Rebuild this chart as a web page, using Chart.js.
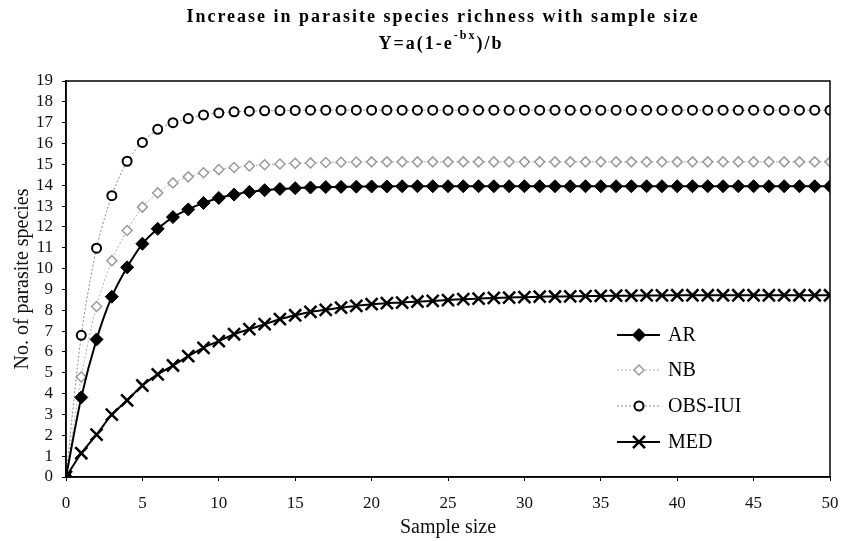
<!DOCTYPE html>
<html>
<head>
<meta charset="utf-8">
<script src="https://cdn.jsdelivr.net/npm/chart.js@4/dist/chart.umd.min.js"></script>
<style>
	html, body { margin: 0; padding: 0; background: #fff; }
</style>
</head>
<body>
<canvas id="chart-richness" width="841" height="541"></canvas>
<script>
// Datos
const sampleSize = [0, 1, 2, 3, 4, 5, 6, 7, 8, 9, 10, 11, 12, 13, 14, 15, 16, 17, 18, 19, 20,
	21, 22, 23, 24, 25, 26, 27, 28, 29, 30, 31, 32, 33, 34, 35, 36, 37, 38, 39, 40,
	41, 42, 43, 44, 45, 46, 47, 48, 49, 50];

const seriesLabels = ['AR', 'NB', 'OBS-IUI', 'MED'];

const arValues = [0, 3.82, 6.6, 8.65, 10.06, 11.19, 11.91, 12.47, 12.84, 13.15, 13.39,
	13.55, 13.68, 13.76, 13.82, 13.86, 13.89, 13.91, 13.92, 13.93, 13.94,
	13.94, 13.95, 13.95, 13.95, 13.95, 13.95, 13.95, 13.95, 13.95, 13.95,
	13.95, 13.95, 13.95, 13.95, 13.95, 13.95, 13.95, 13.95, 13.95, 13.95,
	13.95, 13.95, 13.95, 13.95, 13.95, 13.95, 13.95, 13.95, 13.95, 13.95];

const nbValues = [0, 4.8, 8.18, 10.38, 11.83, 12.95, 13.63, 14.11, 14.4, 14.6, 14.75,
	14.85, 14.92, 14.98, 15.02, 15.05, 15.07, 15.09, 15.1, 15.11, 15.12,
	15.12, 15.12, 15.12, 15.12, 15.12, 15.12, 15.12, 15.12, 15.12, 15.12,
	15.12, 15.12, 15.12, 15.12, 15.12, 15.12, 15.12, 15.12, 15.12, 15.12,
	15.12, 15.12, 15.12, 15.12, 15.12, 15.12, 15.12, 15.12, 15.12, 15.12];

const obsValues = [0, 6.8, 10.98, 13.5, 15.15, 16.05, 16.68, 17.0, 17.2, 17.37, 17.47,
	17.52, 17.55, 17.57, 17.58, 17.59, 17.6, 17.6, 17.6, 17.6, 17.6,
	17.6, 17.6, 17.6, 17.6, 17.6, 17.6, 17.6, 17.6, 17.6, 17.6,
	17.6, 17.6, 17.6, 17.6, 17.6, 17.6, 17.6, 17.6, 17.6, 17.6,
	17.6, 17.6, 17.6, 17.6, 17.6, 17.6, 17.6, 17.6, 17.6, 17.6];

const medValues = [0, 1.14, 2.03, 2.99, 3.68, 4.39, 4.92, 5.35, 5.8, 6.2, 6.52,
	6.85, 7.09, 7.33, 7.57, 7.76, 7.92, 8.02, 8.13, 8.21, 8.29,
	8.34, 8.37, 8.42, 8.45, 8.49, 8.53, 8.56, 8.59, 8.61, 8.63,
	8.65, 8.66, 8.67, 8.68, 8.69, 8.7, 8.7, 8.71, 8.71, 8.72,
	8.72, 8.72, 8.72, 8.72, 8.72, 8.72, 8.72, 8.72, 8.72, 8.72];

const titleLine1 = 'Increase in parasite species richness with sample size';
const titleLine2 = ['Y=a(1-e', '-bx', ')/b'];

const SERIF = '"Liberation Serif", "Times New Roman", serif';

function toPoints(values) {
	return values.map((v, i) => ({ x: sampleSize[i], y: v }));
}

// Titulo, marco y leyenda dibujados a mano
const decorPlugin = {
	id: 'decor',
	afterDraw(chart) {
		const ctx = chart.ctx;
		const area = chart.chartArea;
		ctx.save();

		// marco del area
		ctx.strokeStyle = '#000';
		ctx.lineWidth = 1.5;
		ctx.strokeRect(area.left, area.top, area.right - area.left, area.bottom - area.top);

		// titulo
		ctx.fillStyle = '#000';
		ctx.textBaseline = 'middle';
		ctx.textAlign = 'left';
		ctx.font = 'bold 18px ' + SERIF;
		ctx.letterSpacing = '2px';
		const w = ctx.measureText(titleLine1).width;
		ctx.fillText(titleLine1, 443 - w / 2, 17);

		const mainFont = 'bold 18px ' + SERIF;
		const supFont = 'bold 12px ' + SERIF;
		ctx.font = mainFont;
		const w1 = ctx.measureText(titleLine2[0]).width;
		const w3 = ctx.measureText(titleLine2[2]).width;
		ctx.font = supFont;
		const w2 = ctx.measureText(titleLine2[1]).width;
		let x = 441 - (w1 + w2 + w3) / 2;
		ctx.font = mainFont;
		ctx.fillText(titleLine2[0], x, 44);
		x += w1;
		ctx.font = supFont;
		ctx.fillText(titleLine2[1], x, 36);
		x += w2;
		ctx.font = mainFont;
		ctx.fillText(titleLine2[2], x, 44);
		ctx.letterSpacing = '0px';

		// leyenda
		const rows = [335, 370, 406, 442];
		chart.data.datasets.forEach((ds, i) => {
			const y = rows[i];
			ctx.strokeStyle = ds.borderColor;
			ctx.lineWidth = ds.borderWidth;
			ctx.setLineDash(ds.borderDash || []);
			ctx.beginPath();
			ctx.moveTo(617, y);
			ctx.lineTo(660, y);
			ctx.stroke();
			ctx.setLineDash([]);
			ctx.fillStyle = ds.pointBackgroundColor;
			ctx.strokeStyle = ds.pointBorderColor;
			ctx.lineWidth = ds.pointBorderWidth;
			Chart.helpers.drawPoint(ctx, {
				pointStyle: ds.pointStyle,
				radius: ds.pointRadius,
				borderWidth: ds.pointBorderWidth,
				rotation: 0
			}, 639, y);
			ctx.fillStyle = '#000';
			ctx.font = '20px ' + SERIF;
			ctx.textAlign = 'left';
			ctx.fillText(ds.label, 668, y + 1);
		});
		ctx.restore();
	}
};

new Chart(document.getElementById('chart-richness'), {
	type: 'line',
	data: {
		datasets: [
			{
				label: seriesLabels[0],
				data: toPoints(arValues),
				borderColor: '#000',
				borderWidth: 2,
				pointStyle: 'rectRot',
				pointRadius: 6.5,
				pointBackgroundColor: '#000',
				pointBorderColor: '#000',
				pointBorderWidth: 1
			},
			{
				label: seriesLabels[1],
				data: toPoints(nbValues),
				borderColor: '#b0b0b0',
				borderWidth: 1,
				borderDash: [2, 2],
				pointStyle: 'rectRot',
				pointRadius: 5,
				pointBackgroundColor: '#fff',
				pointBorderColor: '#9a9a9a',
				pointBorderWidth: 1.5
			},
			{
				label: seriesLabels[2],
				data: toPoints(obsValues),
				borderColor: '#888',
				borderWidth: 1,
				borderDash: [2, 2],
				pointStyle: 'circle',
				pointRadius: 4.5,
				pointBackgroundColor: '#fff',
				pointBorderColor: '#000',
				pointBorderWidth: 2
			},
			{
				label: seriesLabels[3],
				data: toPoints(medValues),
				borderColor: '#000',
				borderWidth: 2,
				pointStyle: 'crossRot',
				pointRadius: 8.5,
				pointBackgroundColor: '#000',
				pointBorderColor: '#000',
				pointBorderWidth: 2.5
			}
		]
	},
	options: {
		responsive: false,
		animation: false,
		layout: {
			padding: { left: 0, right: 0, top: 81, bottom: 0 }
		},
		elements: {
			line: { tension: 0.3 }
		},
		plugins: {
			legend: { display: false },
			tooltip: { enabled: false }
		},
		scales: {
			x: {
				type: 'linear',
				min: 0,
				max: 50,
				afterFit: (scale) => {
					scale.height = 64;
					scale.paddingLeft = 0;
					scale.paddingRight = 9;
				},
				border: { display: true, color: '#000', width: 1.5 },
				grid: { drawOnChartArea: false, drawTicks: true, tickLength: 4, color: '#000' },
				ticks: {
					stepSize: 5,
					padding: 12,
					color: '#111',
					font: { family: SERIF, size: 17 }
				},
				title: {
					display: true,
					text: 'Sample size',
					color: '#111',
					padding: { top: 4, bottom: 1 },
					font: { family: SERIF, size: 20 }
				}
			},
			y: {
				min: 0,
				max: 19,
				afterFit: (scale) => { scale.width = 66; },
				border: { display: true, color: '#000', width: 1.5 },
				grid: { drawOnChartArea: false, drawTicks: true, tickLength: 4, color: '#000' },
				ticks: {
					stepSize: 1,
					autoSkip: false,
					padding: 9,
					color: '#111',
					font: { family: SERIF, size: 17 }
				},
				title: {
					display: true,
					text: 'No. of parasite species',
					color: '#111',
					padding: { top: 11, bottom: 4 },
					font: { family: SERIF, size: 20 }
				}
			}
		}
	},
	plugins: [decorPlugin]
});
</script>
</body>
</html>
